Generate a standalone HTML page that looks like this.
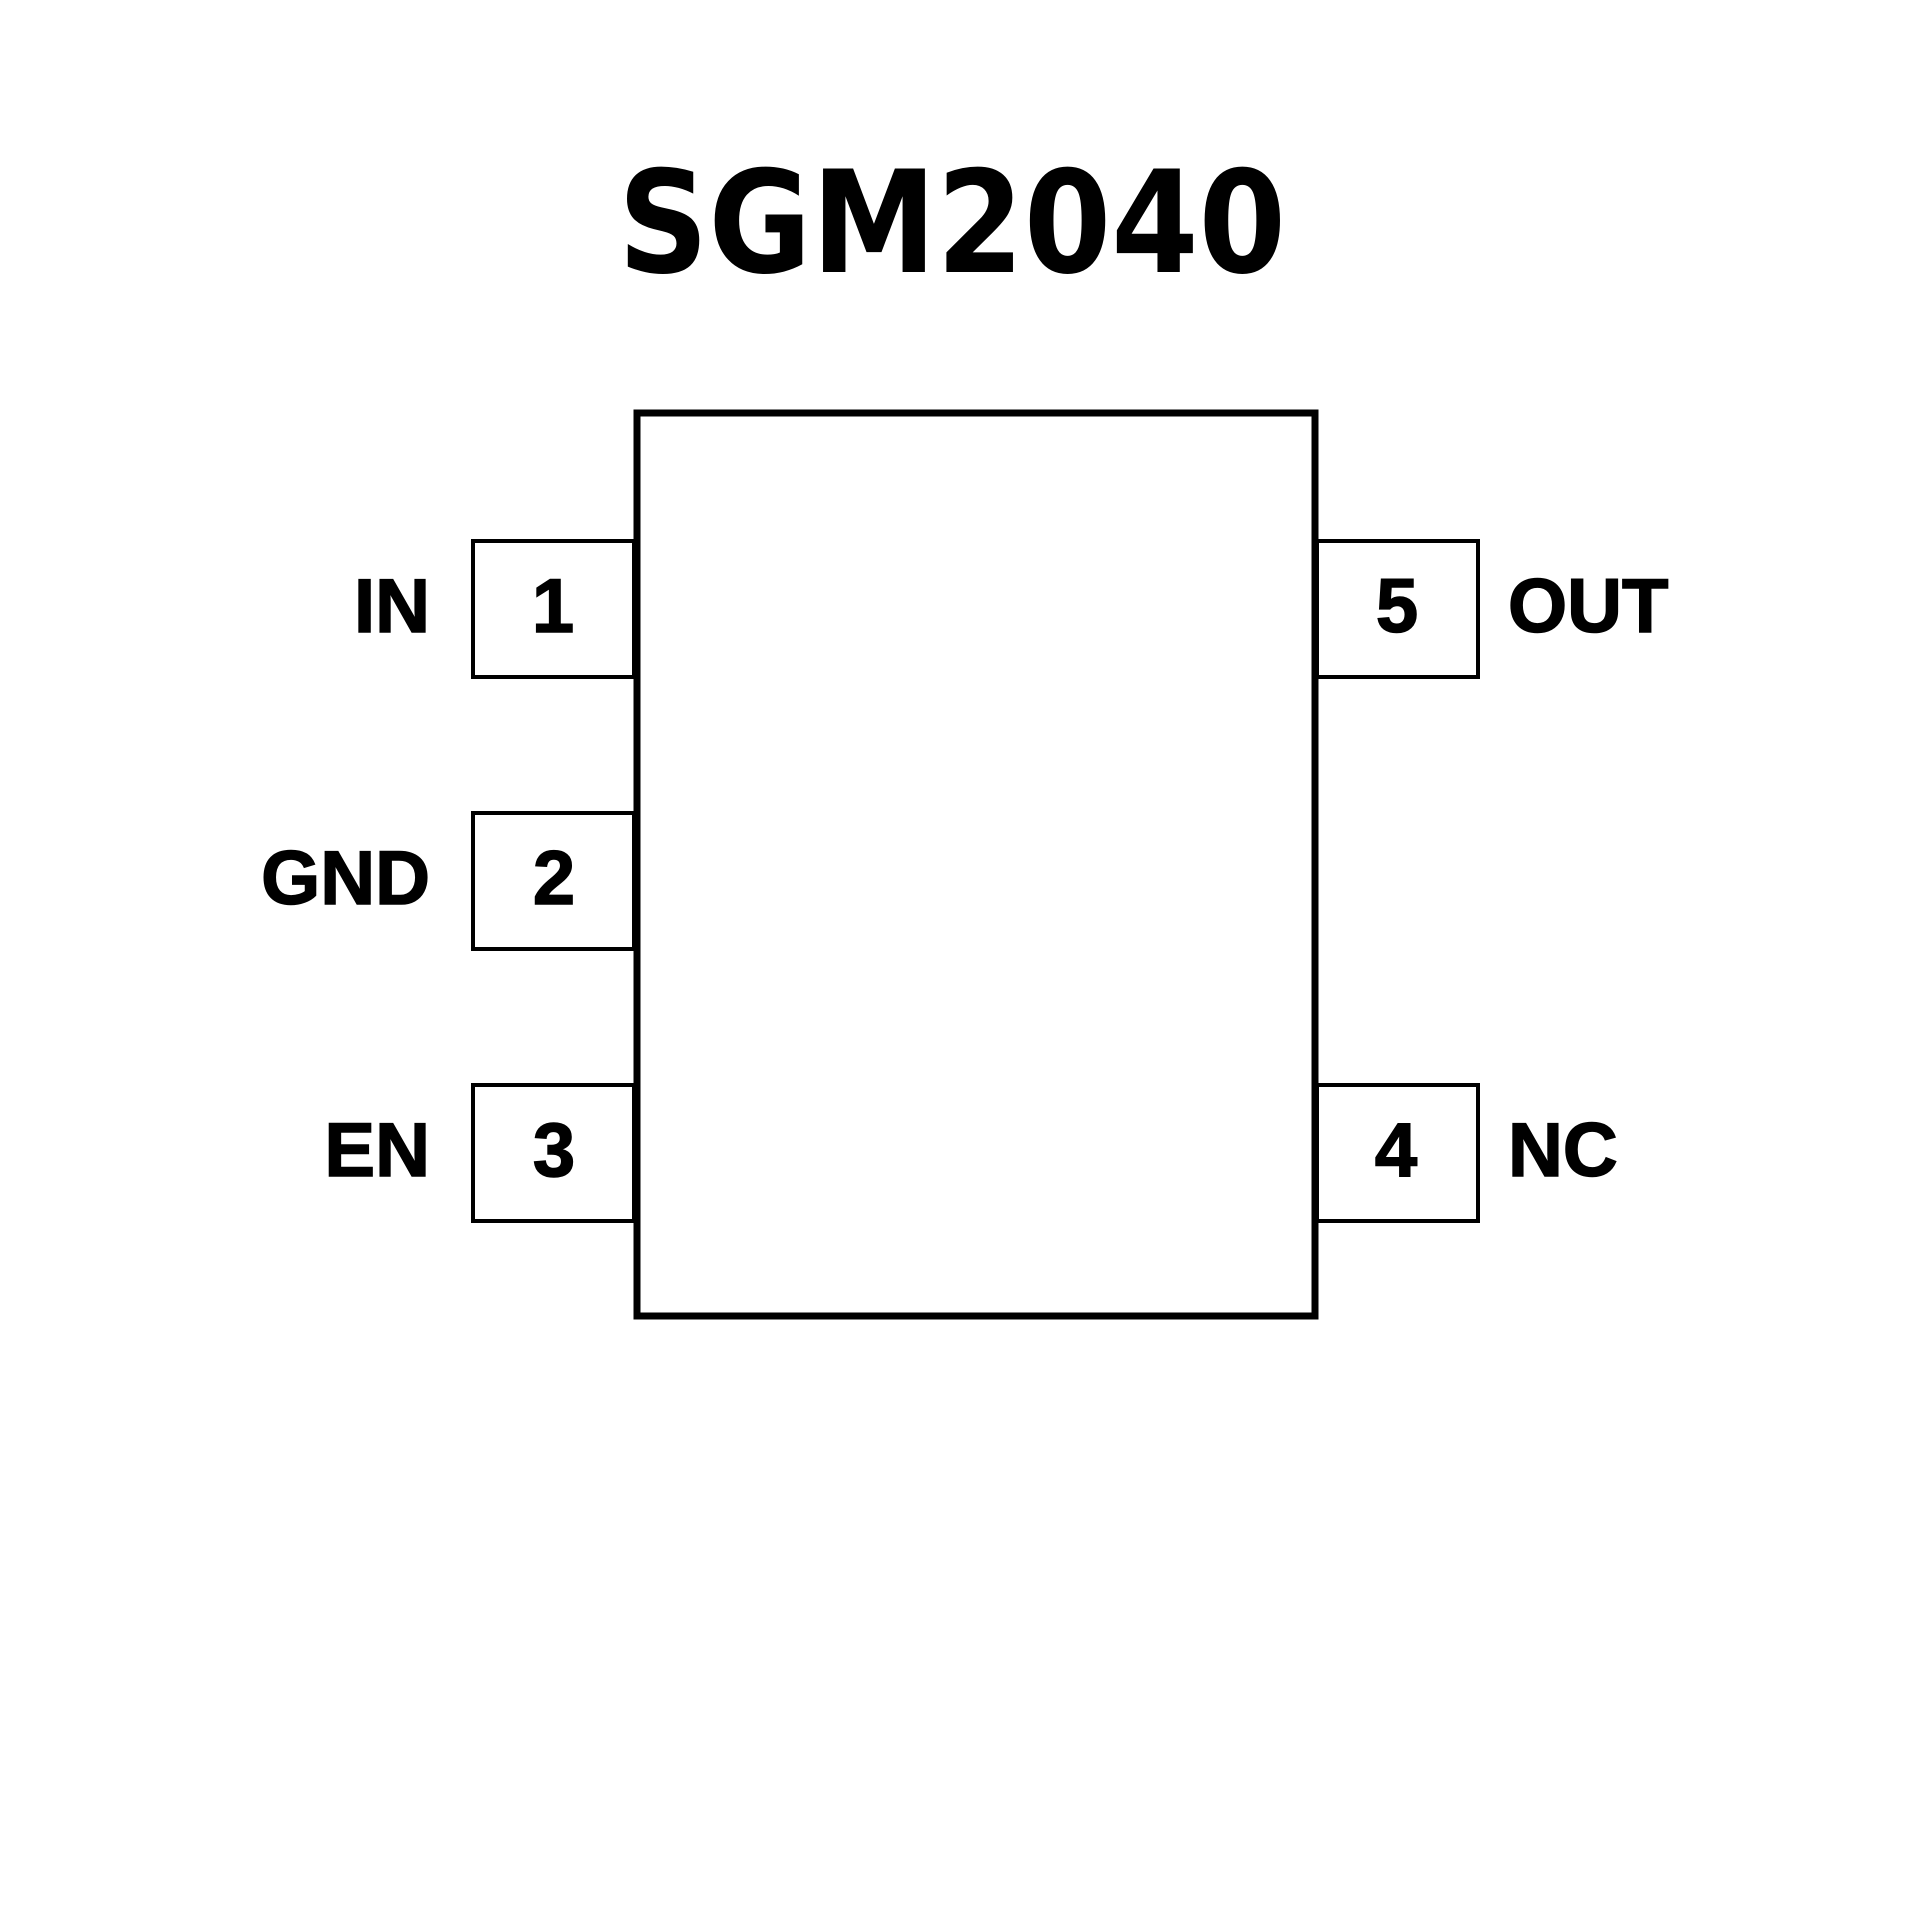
<!DOCTYPE html>
<html><head><meta charset="utf-8"><style>html,body{margin:0;padding:0;background:#fff}</style></head>
<body>
<svg width="1920" height="1920" viewBox="0 0 1920 1920" xmlns="http://www.w3.org/2000/svg">
<rect width="1920" height="1920" fill="#fff"/>
<text x="952" y="272" text-anchor="middle" textLength="668" lengthAdjust="spacingAndGlyphs" font-family="'DejaVu Sans','Liberation Sans',sans-serif" font-weight="bold" font-size="142" fill="#000">SGM2040</text>
<rect x="637" y="413" width="678" height="903" fill="none" stroke="#000" stroke-width="7"/>
<g fill="none" stroke="#000" stroke-width="4">
<rect x="473" y="541" width="161" height="136"/>
<rect x="473" y="813" width="161" height="136"/>
<rect x="473" y="1085" width="161" height="136"/>
<rect x="1317" y="541" width="161" height="136"/>
<rect x="1317" y="1085" width="161" height="136"/>
</g>
<g font-family="'Liberation Sans',sans-serif" font-weight="bold" font-size="76" fill="#000" stroke="#000" stroke-width="1.5">
<text x="553" y="632" text-anchor="middle">1</text>
<text x="554" y="904" text-anchor="middle">2</text>
<text x="554" y="1176" text-anchor="middle">3</text>
<text x="1397" y="632" text-anchor="middle">5</text>
<text x="1396" y="1176" text-anchor="middle">4</text>
<text x="430" y="632" text-anchor="end">IN</text>
<text x="430" y="904" text-anchor="end">GND</text>
<text x="430" y="1176" text-anchor="end">EN</text>
<text x="1508" y="632">OUT</text>
<text x="1508" y="1176">NC</text>
</g>
</svg>
</body></html>
